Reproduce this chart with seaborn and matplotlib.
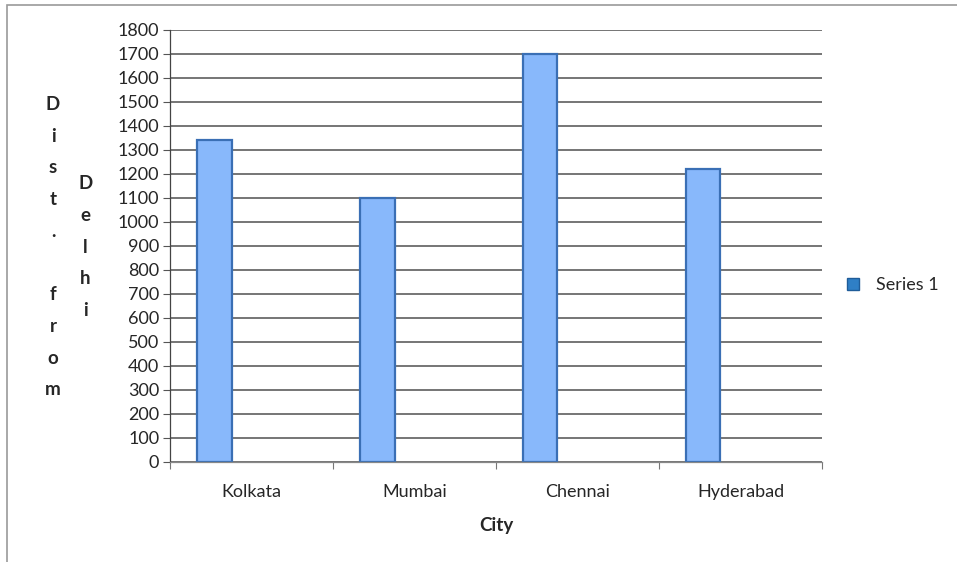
import matplotlib
matplotlib.use("Agg")
import matplotlib.pyplot as plt
from matplotlib.patches import Rectangle
from matplotlib.lines import Line2D
import seaborn as sns
import pandas as pd

# chart data
cities = ["Kolkata", "Mumbai", "Chennai", "Hyderabad"]
distances = [1340, 1100, 1700, 1220]
series_names = ["Series 1", "Series 2"]   # second slot is empty in the source chart
y_ticks = list(range(0, 1801, 100))

sns.set_theme(style="white")
plt.rcParams["font.family"] = ["Lato", "DejaVu Sans"]

df = pd.DataFrame({"City": cities, "Dist": distances, "Series": series_names[0]})

fig = plt.figure(figsize=(9.57, 5.62), dpi=100)
ax = fig.add_axes([0.178, 0.178, 0.681, 0.769])

sns.barplot(data=df, x="City", y="Dist", hue="Series", hue_order=series_names,
            order=cities, width=0.92, gap=0.54, dodge=True, saturation=1,
            palette=["#88b8fb", "#88b8fb"],
            edgecolor="#3a6fb5", linewidth=1.6, legend=False, ax=ax)

ax.set_ylim(0, 1800)
ax.set_xlim(-0.5, len(cities) - 0.5)
ax.set_yticks(y_ticks)
ax.set_yticklabels([str(v) for v in y_ticks], fontsize=13)
ax.yaxis.grid(True, color="#505050", linewidth=1.1)
ax.set_axisbelow(True)

ax.tick_params(axis="y", which="major", direction="out", length=5, width=0.8,
               color="#555555", left=True, pad=3)
ax.tick_params(axis="x", which="major", length=0, labelsize=13, pad=16)
ax.set_xticks(range(len(cities)))
ax.set_xticklabels(cities)
ax.set_xticks([i + 0.5 for i in range(-1, len(cities))], minor=True)
ax.tick_params(axis="x", which="minor", direction="out", length=5, width=0.8,
               color="#777777", bottom=True)

for side in ["top", "right"]:
    ax.spines[side].set_visible(False)
ax.spines["left"].set_color("#444444")
ax.spines["left"].set_linewidth(0.9)
ax.spines["bottom"].set_color("#888888")
ax.spines["bottom"].set_linewidth(0.9)

ax.set_xlabel("City", fontsize=13.5, fontweight="bold", labelpad=12)
ax.set_ylabel("")

# stacked vertical axis title, two columns like the original
ax.text(-0.180, 0.497, "\n".join("Dist. from"), transform=ax.transAxes,
        ha="center", va="center", fontsize=13.5, fontweight="bold", linespacing=2.05)
ax.text(-0.130, 0.497, "\n".join("Delhi"), transform=ax.transAxes,
        ha="center", va="center", fontsize=13.5, fontweight="bold", linespacing=2.05)

# legend at the right
handle = Line2D([0], [0], marker="s", linestyle="none", markersize=8,
                markerfacecolor="#2f7fc6", markeredgecolor="#1f5c99")
fig.legend([handle], ["Series 1"], loc="center left", bbox_to_anchor=(0.855, 0.493),
           frameon=False, fontsize=13, handletextpad=0.3)

# thin chart-area frame
fig.patches.append(Rectangle((0.007, -0.02), 1.2, 1.011, transform=fig.transFigure,
                             fill=False, edgecolor="#9a9a9a", linewidth=1.2))

fig.savefig("out.png", dpi=100)
